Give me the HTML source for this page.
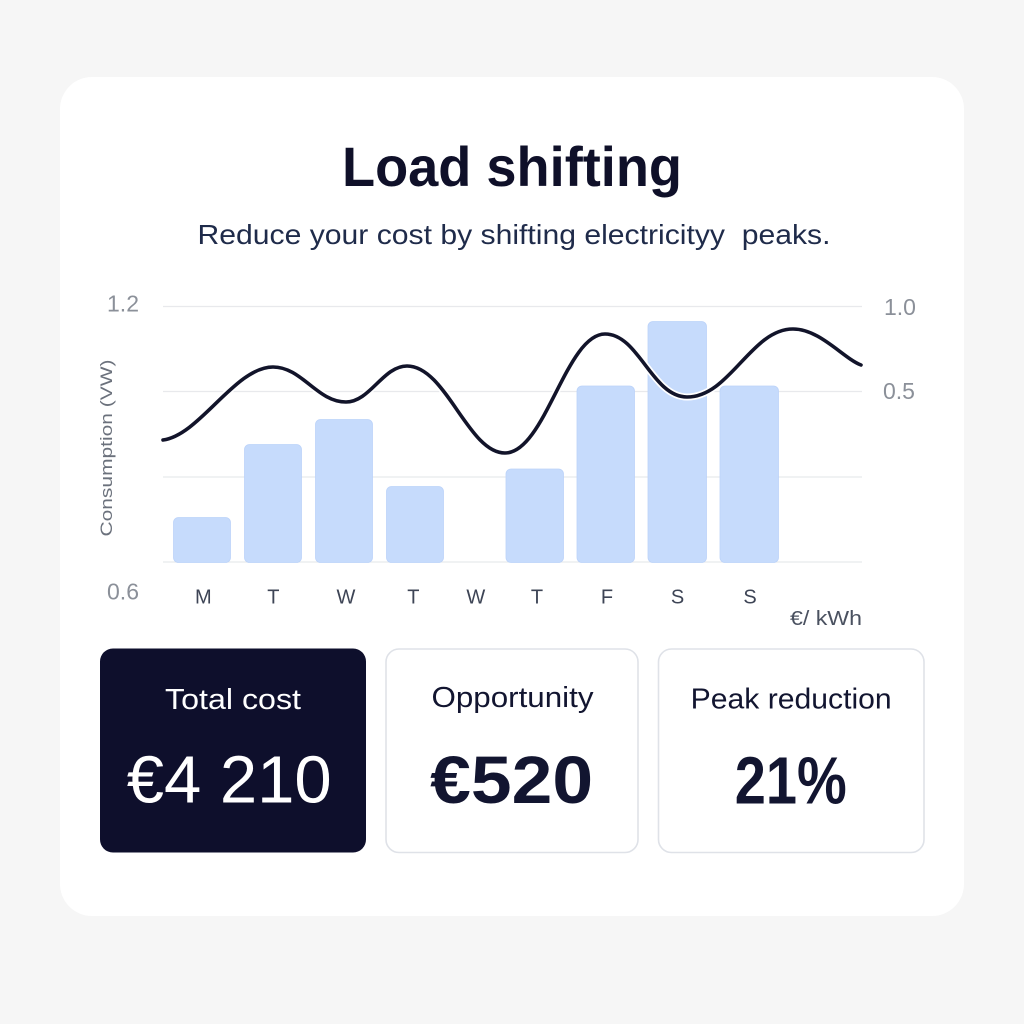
<!DOCTYPE html>
<html>
<head>
<meta charset="utf-8">
<style>
  html,body{margin:0;padding:0;background:#f6f6f6;}
  svg{display:block;}
  text{font-family:"Liberation Sans", sans-serif;}
</style>
</head>
<body>
<svg width="1024" height="1024" viewBox="0 0 1024 1024" xmlns="http://www.w3.org/2000/svg">
  <rect x="0" y="0" width="1024" height="1024" fill="#f6f6f6"/>
  <!-- main card -->
  <rect x="60" y="77" width="904" height="839" rx="32" fill="#ffffff"/>

  <!-- title -->
  <text x="512" y="186" text-anchor="middle" font-size="56" font-weight="bold" fill="#0f1029" textLength="340" lengthAdjust="spacingAndGlyphs">Load shifting</text>
  <text x="514" y="244" text-anchor="middle" font-size="28" fill="#1f2b4a" textLength="633" lengthAdjust="spacingAndGlyphs">Reduce your cost by shifting electricityy&#160; peaks.</text>

  <!-- gridlines -->
  <g stroke="#e8e9ec" stroke-width="1.3">
    <line x1="163" y1="306.5" x2="862" y2="306.5"/>
    <line x1="163" y1="391.5" x2="862" y2="391.5"/>
    <line x1="163" y1="477" x2="862" y2="477"/>
    <line x1="163" y1="562" x2="862" y2="562"/>
  </g>

  <!-- bars -->
  <g fill="#c6dbfc" stroke="#bcd3f9" stroke-width="0.8">
    <rect x="173.5" y="517.5" width="57" height="45" rx="5"/>
    <rect x="244.5" y="444.5" width="57" height="118" rx="5"/>
    <rect x="315.5" y="419.5" width="57" height="143" rx="5"/>
    <rect x="386.5" y="486.5" width="57" height="76" rx="5"/>
    <rect x="506" y="469" width="57.5" height="93.5" rx="5"/>
    <rect x="577" y="386" width="57.5" height="176.5" rx="5"/>
    <rect x="648" y="321.5" width="58.5" height="241" rx="5"/>
    <rect x="720" y="386" width="58.5" height="176.5" rx="5"/>
  </g>

  <!-- line -->
  <path d="M163,440 C200,435 235,367 273,367 C302,367 317,402 346,402 C370,402 383,366 407,366 C446,366 468,453 505,453 C545,453 566,334 605,334 C639,334 652,397 687,397 C730,397 751,329 793,329 C820,329 843,358 861,365"
        fill="none" stroke="#ffffff" stroke-width="7" stroke-linecap="round" stroke-linejoin="round"/>
  <path d="M163,440 C200,435 235,367 273,367 C302,367 317,402 346,402 C370,402 383,366 407,366 C446,366 468,453 505,453 C545,453 566,334 605,334 C639,334 652,397 687,397 C730,397 751,329 793,329 C820,329 843,358 861,365"
        fill="none" stroke="#12142a" stroke-width="3.6" stroke-linecap="round" stroke-linejoin="round"/>

  <!-- left axis labels -->
  <text x="139" y="311.5" text-anchor="end" font-size="23" fill="#8b9099">1.2</text>
  <text x="139" y="599.5" text-anchor="end" font-size="23" fill="#8b9099">0.6</text>
  <!-- right axis labels -->
  <text x="884" y="315" font-size="23" fill="#8b9099">1.0</text>
  <text x="883" y="399" font-size="23" fill="#8b9099">0.5</text>

  <!-- y axis title -->
  <text transform="translate(112,448) rotate(-90)" text-anchor="middle" font-size="17" fill="#6b717c" textLength="177" lengthAdjust="spacingAndGlyphs">Consumption (VW)</text>

  <!-- x labels -->
  <g font-size="20" fill="#3d4455" text-anchor="middle">
    <text x="203.3" y="603.5">M</text>
    <text x="273.3" y="603.5">T</text>
    <text x="346" y="603.5">W</text>
    <text x="413.3" y="603.5">T</text>
    <text x="475.8" y="603.5">W</text>
    <text x="537" y="603.5">T</text>
    <text x="607" y="603.5">F</text>
    <text x="677.5" y="603.5">S</text>
    <text x="750" y="603.5">S</text>
  </g>
  <text x="862" y="625" text-anchor="end" font-size="20" fill="#4a5160" textLength="72" lengthAdjust="spacingAndGlyphs">€/ kWh</text>

  <!-- stat cards -->
  <rect x="100" y="648.5" width="266" height="204" rx="13" fill="#0e0f2c"/>
  <rect x="386" y="649" width="252" height="203.5" rx="13" fill="#ffffff" stroke="#dfe2e8" stroke-width="1.6"/>
  <rect x="658.5" y="649" width="265.5" height="203.5" rx="13" fill="#ffffff" stroke="#dfe2e8" stroke-width="1.6"/>

  <text x="233" y="709" text-anchor="middle" font-size="29" fill="#ffffff" textLength="136" lengthAdjust="spacingAndGlyphs">Total cost</text>
  <text x="229.2" y="802.5" text-anchor="middle" font-size="67" fill="#ffffff" textLength="205" lengthAdjust="spacingAndGlyphs">€4 210</text>

  <text x="512.5" y="707" text-anchor="middle" font-size="29" fill="#121530" textLength="162" lengthAdjust="spacingAndGlyphs">Opportunity</text>
  <text x="511.7" y="803" text-anchor="middle" font-size="67" font-weight="bold" fill="#121530" textLength="163" lengthAdjust="spacingAndGlyphs">€520</text>

  <text x="791.2" y="708.3" text-anchor="middle" font-size="29" fill="#121530" textLength="201" lengthAdjust="spacingAndGlyphs">Peak reduction</text>
  <text x="790.8" y="803.3" text-anchor="middle" font-size="67" font-weight="bold" fill="#121530" textLength="112" lengthAdjust="spacingAndGlyphs">21%</text>
</svg>
</body>
</html>
